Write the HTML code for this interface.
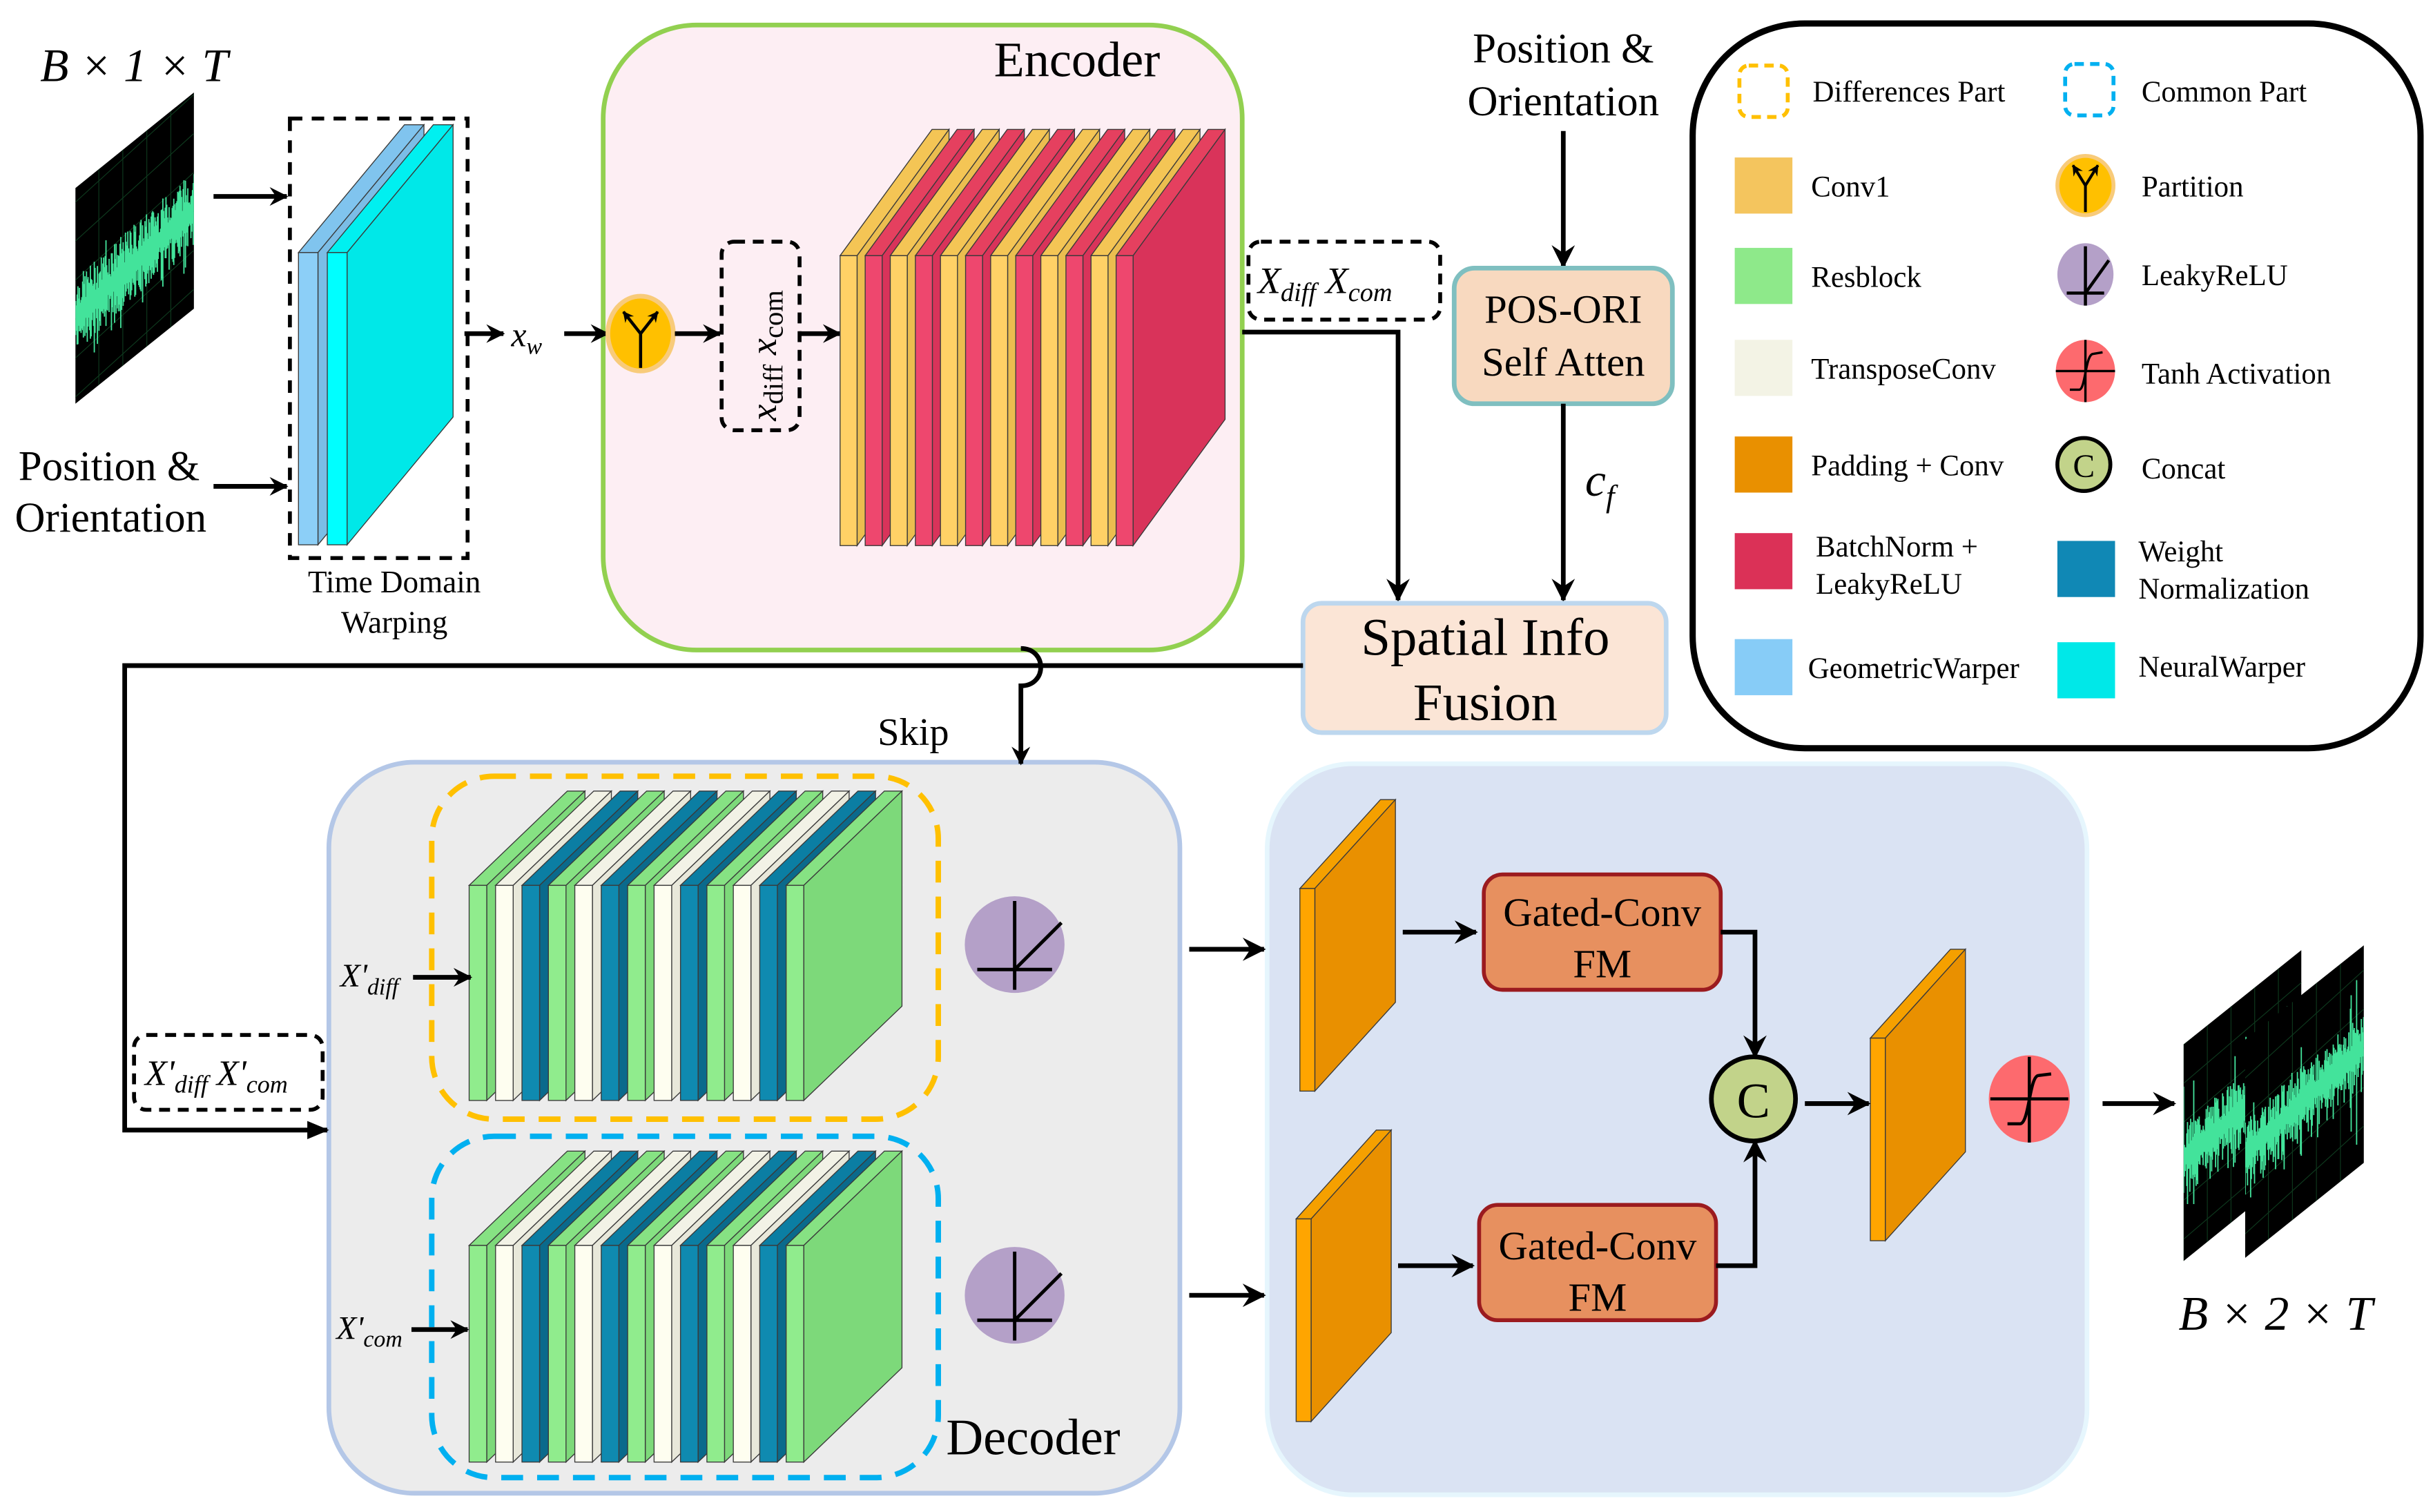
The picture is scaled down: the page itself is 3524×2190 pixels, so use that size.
<!DOCTYPE html>
<html><head><meta charset="utf-8"><style>
html,body{margin:0;padding:0;background:#fff;}
svg{display:block;}
text{font-family:"Liberation Serif","DejaVu Serif",serif;fill:#000;}
.it{font-style:italic;}
</style></head><body>
<svg id="s" width="3524" height="2190" viewBox="0 0 1561 970" xmlns="http://www.w3.org/2000/svg">
<defs>
<marker id="ar" viewBox="0 0 12 12" refX="11" refY="6" markerWidth="7" markerHeight="7" orient="auto" markerUnits="userSpaceOnUse">
<path d="M0,0 L12,6 L0,12 L4,6 z" fill="#000"/></marker>
<marker id="ar2" viewBox="0 0 12 12" refX="11" refY="6" markerWidth="12" markerHeight="12" orient="auto" markerUnits="userSpaceOnUse">
<path d="M0,0 L12,6 L0,12 L4,6 z" fill="#000"/></marker>
<marker id="ar3" viewBox="0 0 12 12" refX="11" refY="6" markerWidth="15" markerHeight="15" orient="auto" markerUnits="userSpaceOnUse">
<path d="M0,0 L12,6 L0,12 L4,6 z" fill="#000"/></marker>
<marker id="ar4" viewBox="0 0 12 12" refX="11" refY="6" markerWidth="14" markerHeight="14" orient="auto" markerUnits="userSpaceOnUse">
<path d="M0,1 L12,6 L0,11 z" fill="#000"/></marker>
<clipPath id="c1"><polygon points="48.4,120.6 124.4,59.3 124.4,198 48.4,259"/></clipPath>
<clipPath id="c2"><polygon points="1401,670 1476.5,609.6 1476.5,748 1401,809"/></clipPath>
<clipPath id="c3"><polygon points="1440.5,667 1516.6,606.5 1516.6,746 1440.5,807"/></clipPath>
</defs>

<rect x="387" y="16" width="410" height="401" rx="60" fill="#fdeef3" stroke="#92d050" stroke-width="3"/>
<text x="691" y="49" font-size="32" text-anchor="middle">Encoder</text>
<rect x="211" y="489" width="546" height="469" rx="55" fill="#ececec" stroke="#b4c7e7" stroke-width="3"/>
<rect x="813" y="490" width="526" height="469" rx="55" fill="#dae3f3" stroke="#e6f6fd" stroke-width="3"/>

<polygon points="48.4,120.6 124.4,59.3 124.4,198 48.4,259" fill="#000"/>
<g id="sig1" clip-path="url(#c1)"></g>
<polygon points="1401,670 1476.5,609.6 1476.5,748 1401,809" fill="#000"/>
<g id="sig2" clip-path="url(#c2)"></g>
<polygon points="1440.5,667 1516.6,606.5 1516.6,746 1440.5,807" fill="#000"/>
<g id="sig3" clip-path="url(#c3)"></g>

<text x="86" y="52" font-size="30" text-anchor="middle" class="it">B × 1 × T</text>
<text x="1460" y="853" font-size="31" text-anchor="middle" class="it">B × 2 × T</text>

<text x="70" y="308" font-size="27" text-anchor="middle">Position &amp;</text>
<text x="71" y="341" font-size="27" text-anchor="middle">Orientation</text>
<line x1="137" y1="126" x2="184" y2="126" stroke="#000" stroke-width="3" marker-end="url(#ar2)"/>
<line x1="137" y1="312" x2="184" y2="312" stroke="#000" stroke-width="3" marker-end="url(#ar2)"/>

<rect x="186" y="76" width="114" height="282" fill="none" stroke="#000" stroke-width="2.5" stroke-dasharray="8,6"/>
<g id="tw"></g>
<text x="253" y="380" font-size="20" text-anchor="middle">Time Domain</text>
<text x="253" y="406" font-size="20" text-anchor="middle">Warping</text>
<line x1="298" y1="214" x2="323" y2="214" stroke="#000" stroke-width="3" marker-end="url(#ar2)"/>
<text x="328" y="222" font-size="22" class="it">x<tspan font-size="15" dy="5">w</tspan></text>
<line x1="362" y1="214" x2="390" y2="214" stroke="#000" stroke-width="3" marker-end="url(#ar2)"/>
<ellipse cx="411" cy="214" rx="21" ry="24" fill="#ffc000" stroke="#f8cb7a" stroke-width="3"/>
<g stroke="#000" stroke-width="2" fill="none">
<line x1="411" y1="214" x2="411" y2="236"/><line x1="411" y1="214" x2="400" y2="200" marker-end="url(#ar)"/><line x1="411" y1="214" x2="422" y2="200" marker-end="url(#ar)"/>
</g>
<line x1="433" y1="214" x2="462" y2="214" stroke="#000" stroke-width="3" marker-end="url(#ar2)"/>
<rect x="463" y="155" width="50" height="121" rx="8" fill="none" stroke="#000" stroke-width="2.5" stroke-dasharray="7,5"/>
<text transform="translate(498,270) rotate(-90)" font-size="24"><tspan class="it">x</tspan><tspan font-size="18" dy="4">diff</tspan><tspan dy="-4"> </tspan><tspan class="it">x</tspan><tspan font-size="18" dy="4">com</tspan></text>
<line x1="513" y1="214" x2="539" y2="214" stroke="#000" stroke-width="3" marker-end="url(#ar2)"/>

<g id="enc"></g>

<rect x="801" y="155" width="123" height="50" rx="8" fill="none" stroke="#000" stroke-width="2.5" stroke-dasharray="7,5"/>
<text x="807" y="188" font-size="24" class="it">X<tspan font-size="17" dy="5">diff</tspan><tspan dy="-5"> X</tspan><tspan font-size="17" dy="5">com</tspan></text>
<polyline points="797,213 897,213 897,385" fill="none" stroke="#000" stroke-width="3" marker-end="url(#ar3)"/>

<text x="1003" y="40" font-size="27" text-anchor="middle">Position &amp;</text>
<text x="1003" y="74" font-size="27" text-anchor="middle">Orientation</text>
<line x1="1003" y1="84" x2="1003" y2="171" stroke="#000" stroke-width="3" marker-end="url(#ar3)"/>
<rect x="933" y="172" width="140" height="87" rx="13" fill="#f8d9bf" stroke="#7fbfc0" stroke-width="3"/>
<text x="1003" y="207" font-size="26" text-anchor="middle">POS-ORI</text>
<text x="1003" y="241" font-size="26" text-anchor="middle">Self Atten</text>
<line x1="1003" y1="259" x2="1003" y2="385" stroke="#000" stroke-width="3" marker-end="url(#ar3)"/>
<text x="1017" y="318" font-size="30" class="it">c<tspan font-size="20" dy="7">f</tspan></text>
<rect x="836" y="387" width="233" height="83" rx="12" fill="#fbe5d6" stroke="#bdd7ee" stroke-width="3"/>
<text x="953" y="420" font-size="34" text-anchor="middle">Spatial Info</text>
<text x="953" y="462" font-size="34" text-anchor="middle">Fusion</text>

<polyline points="836,427 80,427 80,725 210,725" fill="none" stroke="#000" stroke-width="3" marker-end="url(#ar4)"/>
<rect x="86" y="664" width="121" height="48" rx="8" fill="#fff" stroke="#000" stroke-width="2.5" stroke-dasharray="7,5"/>
<text x="93" y="696" font-size="23" class="it">X'<tspan font-size="16" dy="5">diff</tspan><tspan dy="-5"> X'</tspan><tspan font-size="16" dy="5">com</tspan></text>
<path d="M655,416 C672,416 672,440 655,440 L655,490" fill="none" stroke="#000" stroke-width="3" marker-end="url(#ar2)"/>
<text x="586" y="478" font-size="25" text-anchor="middle">Skip</text>

<rect x="277" y="498" width="325" height="220" rx="40" fill="none" stroke="#ffc000" stroke-width="3.5" stroke-dasharray="14,9"/>
<rect x="277" y="729" width="325" height="219" rx="40" fill="none" stroke="#00b0f0" stroke-width="3.5" stroke-dasharray="14,9"/>
<g id="dec1"></g><g id="dec2"></g>
<text x="237" y="633" font-size="21" text-anchor="middle" class="it">X'<tspan font-size="15" dy="5">diff</tspan></text>
<line x1="265" y1="627" x2="302" y2="627" stroke="#000" stroke-width="3" marker-end="url(#ar2)"/>
<text x="237" y="859" font-size="21" text-anchor="middle" class="it">X'<tspan font-size="15" dy="5">com</tspan></text>
<line x1="264" y1="853" x2="300" y2="853" stroke="#000" stroke-width="3" marker-end="url(#ar2)"/>
<text x="607" y="933" font-size="33">Decoder</text>

<g id="lr1"></g><g id="lr2"></g>

<line x1="763" y1="609" x2="811" y2="609" stroke="#000" stroke-width="3" marker-end="url(#ar3)"/>
<line x1="763" y1="831" x2="811" y2="831" stroke="#000" stroke-width="3" marker-end="url(#ar3)"/>
<g id="or"></g>
<line x1="900" y1="598" x2="947" y2="598" stroke="#000" stroke-width="3" marker-end="url(#ar3)"/>
<line x1="897" y1="812" x2="945" y2="812" stroke="#000" stroke-width="3" marker-end="url(#ar3)"/>
<rect x="952" y="561" width="152" height="74" rx="12" fill="#e7905f" stroke="#9b1b1f" stroke-width="2.5"/>
<text x="1028" y="594" font-size="26" text-anchor="middle">Gated-Conv</text>
<text x="1028" y="627" font-size="26" text-anchor="middle">FM</text>
<rect x="949" y="773" width="152" height="74" rx="12" fill="#e7905f" stroke="#9b1b1f" stroke-width="2.5"/>
<text x="1025" y="808" font-size="26" text-anchor="middle">Gated-Conv</text>
<text x="1025" y="841" font-size="26" text-anchor="middle">FM</text>
<polyline points="1104,598 1126,598 1126,678" fill="none" stroke="#000" stroke-width="3" marker-end="url(#ar3)"/>
<polyline points="1101,812 1126,812 1126,732" fill="none" stroke="#000" stroke-width="3" marker-end="url(#ar3)"/>
<ellipse cx="1125" cy="705" rx="27" ry="27" fill="#c2d38a" stroke="#000" stroke-width="3"/>
<text x="1125" y="717" font-size="32" text-anchor="middle">C</text>
<line x1="1158" y1="708" x2="1199" y2="708" stroke="#000" stroke-width="3" marker-end="url(#ar3)"/>
<ellipse cx="1302" cy="705" rx="26" ry="28" fill="#fd6a6e"/>
<g stroke="#000" stroke-width="2" fill="none">
<line x1="1277" y1="705" x2="1327" y2="705"/><line x1="1302" y1="678" x2="1302" y2="733"/>
<path d="M1288,721 L1296,721 C1302,721 1302,690 1308,690 L1316,689"/></g>
<line x1="1349" y1="708" x2="1395" y2="708" stroke="#000" stroke-width="3" marker-end="url(#ar3)"/>

<rect x="1086" y="15" width="467" height="465" rx="72" fill="#fff" stroke="#000" stroke-width="4"/>
<g id="leg"></g>
</svg>
<script>
var NS="http://www.w3.org/2000/svg";
function el(p,t,a){var e=document.createElementNS(NS,t);for(var k in a)e.setAttribute(k,a[k]);p.appendChild(e);return e;}
function slab(g,x,y,w,h,dx,dy,f,s,t){
 var st={stroke:"#3a3a3a","stroke-width":0.6};
 el(g,"polygon",Object.assign({points:[x,y,x+dx,y+dy,x+w+dx,y+dy,x+w,y].join(","),fill:t},st));
 el(g,"polygon",Object.assign({points:[x+w,y,x+w+dx,y+dy,x+w+dx,y+h+dy,x+w,y+h].join(","),fill:s},st));
 el(g,"rect",Object.assign({x:x,y:y,width:w,height:h,fill:f},st));
}
var g=document.getElementById("enc");
var Y=["#ffd166","#ebbd4f","#f4c555"],P=["#ee476e","#d9335a","#e5405f"];
for(var i=0;i<12;i++){var c=i%2?P:Y;slab(g,539+i*16.1,164,10.9,186,59,-81,c[0],c[1],c[2]);}
var G=["#90ec8d","#7dd97a","#86e283"],W=["#fefef0","#e8e8da","#f2f2e6"],B=["#0f8ab0","#0a6a8c","#0b7ea3"];
function dec(id,y,h){var g=document.getElementById(id);for(var i=0;i<13;i++){var c=[G,W,B][i%3];slab(g,301+i*16.95,y,11.3,h,63,-60.5,c[0],c[1],c[2]);}}
dec("dec1",568,138);dec("dec2",799,139);
var tw=document.getElementById("tw");
slab(tw,191.5,162,12.5,187.5,68,-82,"#8ccff7","#7bbde6","#80c4ee");
slab(tw,210,162,12.7,187.5,68,-82,"#00ffff","#00e8e8","#00f0f0");
var or=document.getElementById("or");
var O=["#ffa500","#e99000","#f5a000"];
slab(or,834,570,9.6,130,51.7,-57,O[0],O[1],O[2]);
slab(or,831.6,782,9.6,130,51.4,-57,O[0],O[1],O[2]);
slab(or,1200,666,9.6,130,51.4,-57,O[0],O[1],O[2]);
function lr(id,cx,cy,r){var g=document.getElementById(id);
 el(g,"ellipse",{cx:cx,cy:cy,rx:r,ry:r-1,fill:"#b4a0c8"});
 el(g,"line",{x1:cx,y1:cy-28,x2:cx,y2:cy+29,stroke:"#000","stroke-width":2.2});
 el(g,"line",{x1:cx-24,y1:cy+16,x2:cx+24,y2:cy+16,stroke:"#000","stroke-width":2.2});
 el(g,"line",{x1:cx,y1:cy+16,x2:cx+30,y2:cy-14,stroke:"#000","stroke-width":2.2});}
lr("lr1",651,606,32);lr("lr2",651,831,32);
var seed=7;function rnd(){seed=(seed*9301+49297)%233280;return seed/233280;}
function sig(id,x0,x1,ya,yb,amp){var g=document.getElementById(id);
 for(var k=0;k<6;k++){el(g,"line",{x1:x0+k*(x1-x0)/5,y1:0,x2:x0+k*(x1-x0)/5,y2:970,stroke:"#0e3a1e","stroke-width":0.5});}
 for(var k=0;k<8;k++){var yy=ya+(k-3)*25;el(g,"line",{x1:x0,y1:yy,x2:x1,y2:yy+(yb-ya),stroke:"#0e3a1e","stroke-width":0.5});}
 var d="";for(var x=x0;x<=x1;x+=0.5){var yc=ya+(yb-ya)*(x-x0)/(x1-x0);var a=amp*(0.3+rnd()*0.9)*(rnd()<0.06?2:1);d+="M"+x.toFixed(1)+","+(yc-a).toFixed(1)+"L"+x.toFixed(1)+","+(yc+a*(0.4+rnd())).toFixed(1);}
 el(g,"path",{d:d,stroke:"#43e39b","stroke-width":0.8,fill:"none"});}
sig("sig1",48,125,205,135,22);
sig("sig2",1401,1477,745,680,20);
sig("sig3",1440,1517,742,672,20);
var L=document.getElementById("leg");
function t(x,y,s){var e=el(L,"text",{x:x,y:y,"font-size":19});e.textContent=s;}
el(L,"rect",{x:1116,y:42,width:31,height:33,rx:6,fill:"none",stroke:"#ffc000","stroke-width":2.5,"stroke-dasharray":"6,4"});
t(1163,65,"Differences Part");
el(L,"rect",{x:1325,y:41,width:31,height:33,rx:6,fill:"none",stroke:"#00b0f0","stroke-width":2.5,"stroke-dasharray":"6,4"});
t(1374,65,"Common Part");
var sw=[["#f4c55e",101,"Conv1",126],["#8ee98a",159,"Resblock",184],["#f3f3e5",218,"TransposeConv",243],["#e99000",280,"Padding + Conv",305],["#db3157",342,"",0],["#87ccf7",410,"GeometricWarper",435]];
sw.forEach(function(s){el(L,"rect",{x:1113,y:s[1],width:37,height:36,fill:s[0]});if(s[2])t(s[2]=="GeometricWarper"?1160:1162,s[3],s[2]);});
t(1165,357,"BatchNorm +");t(1165,381,"LeakyReLU");
el(L,"rect",{x:1320,y:347,width:37,height:36,fill:"#1088b5"});t(1372,360,"Weight");t(1372,384,"Normalization");
el(L,"rect",{x:1320,y:412,width:37,height:36,fill:"#00e8e8"});t(1372,434,"NeuralWarper");
el(L,"ellipse",{cx:1338,cy:119,rx:18,ry:19,fill:"#ffc000",stroke:"#f8cb7a","stroke-width":2.5});
el(L,"line",{x1:1338,y1:119,x2:1338,y2:136,stroke:"#000","stroke-width":1.8});
el(L,"line",{x1:1338,y1:119,x2:1330,y2:106,stroke:"#000","stroke-width":1.8,"marker-end":"url(#ar)"});
el(L,"line",{x1:1338,y1:119,x2:1346,y2:106,stroke:"#000","stroke-width":1.8,"marker-end":"url(#ar)"});
t(1374,126,"Partition");
el(L,"ellipse",{cx:1338,cy:176,rx:18,ry:20,fill:"#b4a0c8"});
el(L,"line",{x1:1338,y1:158,x2:1338,y2:196,stroke:"#000","stroke-width":2});
el(L,"line",{x1:1326,y1:188,x2:1350,y2:188,stroke:"#000","stroke-width":2});
el(L,"line",{x1:1338,y1:188,x2:1353,y2:167,stroke:"#000","stroke-width":2});
t(1374,183,"LeakyReLU");
el(L,"ellipse",{cx:1338,cy:238,rx:19,ry:20,fill:"#fd6a6e"});
el(L,"line",{x1:1319,y1:238,x2:1357,y2:238,stroke:"#000","stroke-width":1.5});
el(L,"line",{x1:1338,y1:218,x2:1338,y2:258,stroke:"#000","stroke-width":1.5});
el(L,"path",{d:"M1328,250 L1334,250 C1338,250 1338,227 1343,227 L1349,226",stroke:"#000","stroke-width":1.5,fill:"none"});
t(1374,246,"Tanh Activation");
el(L,"ellipse",{cx:1337,cy:298,rx:17,ry:17,fill:"#c2d38a",stroke:"#000","stroke-width":2.5});
var c=el(L,"text",{x:1337,y:306,"font-size":21,"text-anchor":"middle"});c.textContent="C";
t(1374,307,"Concat");
</script>
</body></html>
